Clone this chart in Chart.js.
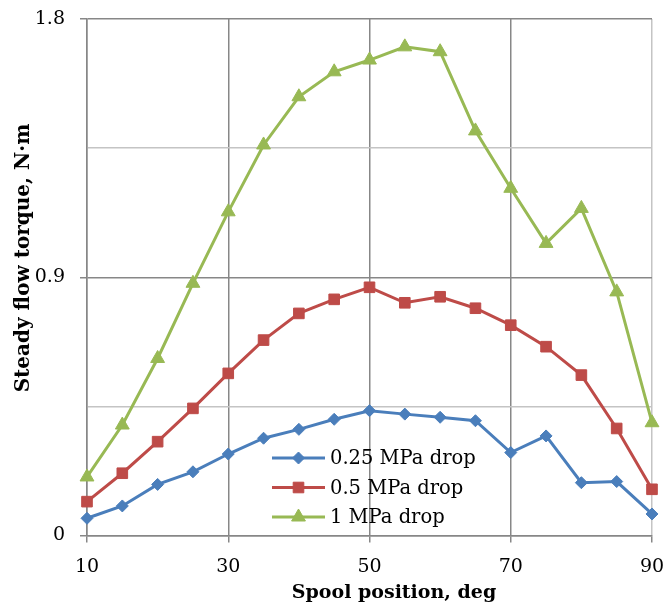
<!DOCTYPE html>
<html>
<head>
<meta charset="utf-8">
<title>Steady flow torque</title>
<script src="https://cdn.jsdelivr.net/npm/chart.js@4.4.1/dist/chart.umd.min.js"></script>
<style>
  html, body { margin: 0; padding: 0; background: #fff; }
  #wrap { width: 665px; height: 603px; }
</style>
</head>
<body>
<div id="wrap"><canvas id="chart" width="665" height="603"></canvas></div>
<script>
// Datos
const spoolPositions = [10, 15, 20, 25, 30, 35, 40, 45, 50, 55, 60, 65, 70, 75, 80, 85, 90];
const torque025 = [0.060, 0.103, 0.178, 0.222, 0.284, 0.339, 0.370, 0.405, 0.435, 0.423, 0.412, 0.400, 0.289, 0.347, 0.184, 0.188, 0.075];
const torque05 = [0.118, 0.217, 0.327, 0.443, 0.565, 0.681, 0.774, 0.823, 0.865, 0.811, 0.832, 0.792, 0.733, 0.658, 0.559, 0.373, 0.161];
const torque1 = [0.204, 0.385, 0.617, 0.879, 1.128, 1.361, 1.529, 1.616, 1.657, 1.703, 1.686, 1.410, 1.210, 1.018, 1.140, 0.849, 0.393];
const seriesNames = ['0.25 MPa drop', '0.5 MPa drop', '1 MPa drop'];
const xTitle = 'Spool position, deg';
const yTitle = 'Steady flow torque, N\u00B7m';

const DARK = '#878787';
const LIGHT = '#c4c4c4';
const FONT = 'DejaVu Serif';

function toPoints(values) {
    return spoolPositions.map((x, i) => ({ x: x, y: values[i] }));
}

function isMajor(v) {
    return Math.abs(v / 0.9 - Math.round(v / 0.9)) < 1e-6;
}

// Quitar el relleno extra que Chart.js añade por las etiquetas
function fixScale(scale, size) {
    if (scale.isHorizontal()) scale.height = size;
    else scale.width = size;
    scale.paddingLeft = 0;
    scale.paddingRight = 0;
    scale.paddingTop = 0;
    scale.paddingBottom = 0;
}

function makeDataset(label, values, color, style, radius) {
    return {
        label: label,
        data: toPoints(values),
        borderColor: color,
        backgroundColor: color,
        borderWidth: 3,
        pointStyle: style,
        pointRadius: radius,
        pointHoverRadius: radius,
        pointBorderWidth: 1,
        tension: 0,
        clip: false
    };
}

// Marcador simple para la leyenda
function drawMarker(ctx, style, x, y, r, color) {
    ctx.save();
    ctx.fillStyle = color;
    ctx.strokeStyle = color;
    ctx.lineWidth = 1;
    ctx.beginPath();
    if (style === 'rectRot') {
        ctx.moveTo(x, y - r); ctx.lineTo(x + r, y); ctx.lineTo(x, y + r); ctx.lineTo(x - r, y);
    } else if (style === 'rect') {
        const s = r * Math.SQRT1_2;
        ctx.rect(x - s, y - s, 2 * s, 2 * s);
    } else {
        ctx.moveTo(x, y - r);
        ctx.lineTo(x + r * Math.sin(Math.PI * 2 / 3), y - r * Math.cos(Math.PI * 2 / 3));
        ctx.lineTo(x + r * Math.sin(Math.PI * 4 / 3), y - r * Math.cos(Math.PI * 4 / 3));
    }
    ctx.closePath();
    ctx.fill();
    ctx.stroke();
    ctx.restore();
}

// Títulos de ejes y leyenda dibujados a mano
const extrasPlugin = {
    id: 'extras',
    afterDraw(chart) {
        const ctx = chart.ctx;
        ctx.save();
        ctx.fillStyle = '#000';
        ctx.font = 'bold 19px "' + FONT + '"';
        ctx.textAlign = 'center';
        ctx.textBaseline = 'alphabetic';
        ctx.fillText(xTitle, 394, 598);

        ctx.font = 'bold 20px "' + FONT + '"';
        ctx.translate(29, 258);
        ctx.rotate(-Math.PI / 2);
        ctx.fillText(yTitle, 0, 0);
        ctx.restore();

        // Leyenda
        const x0 = 272, x1 = 325, top = 458, step = 29.5;
        ctx.save();
        ctx.font = '19.5px "' + FONT + '"';
        ctx.textAlign = 'left';
        ctx.textBaseline = 'middle';
        chart.data.datasets.forEach((ds, i) => {
            const y = top + i * step;
            ctx.strokeStyle = ds.borderColor;
            ctx.lineWidth = 3;
            ctx.beginPath();
            ctx.moveTo(x0, y);
            ctx.lineTo(x1, y);
            ctx.stroke();
            drawMarker(ctx, ds.pointStyle, (x0 + x1) / 2, y, ds.pointRadius, ds.borderColor);
            ctx.fillStyle = '#000';
            ctx.fillText(ds.label, 330, y + 1);
        });
        ctx.restore();
    }
};

const chart = new Chart(document.getElementById('chart').getContext('2d'), {
    type: 'line',
    data: {
        datasets: [
            makeDataset(seriesNames[0], torque025, '#4a7ebb', 'rectRot', 6),
            makeDataset(seriesNames[1], torque05, '#be4b48', 'rect', 7.5),
            makeDataset(seriesNames[2], torque1, '#98b954', 'triangle', 8)
        ]
    },
    options: {
        responsive: false,
        animation: false,
        events: [],
        layout: { padding: { top: 19, right: 13, left: 0, bottom: 0 } },
        plugins: {
            legend: { display: false },
            tooltip: { enabled: false }
        },
        scales: {
            x: {
                type: 'linear',
                min: 10,
                max: 90,
                afterFit: scale => fixScale(scale, 67.5),
                ticks: {
                    stepSize: 20,
                    padding: 13,
                    color: '#000',
                    font: { family: FONT, size: 19 }
                },
                grid: {
                    color: ctx => (ctx.tick && ctx.tick.value === 90) ? LIGHT : DARK,
                    lineWidth: 1.5,
                    tickLength: 7,
                    tickColor: DARK
                },
                border: { color: DARK, width: 1.5 }
            },
            y: {
                min: 0,
                max: 1.8,
                afterFit: scale => fixScale(scale, 87),
                ticks: {
                    stepSize: 0.45,
                    padding: 15,
                    color: '#000',
                    font: { family: FONT, size: 19 },
                    callback: v => isMajor(v) ? String(Math.round(v * 10) / 10) : ''
                },
                grid: {
                    color: ctx => (ctx.tick && isMajor(ctx.tick.value)) ? DARK : LIGHT,
                    lineWidth: 1.5,
                    tickLength: 7,
                    tickColor: ctx => (ctx.tick && isMajor(ctx.tick.value)) ? DARK : 'rgba(0,0,0,0)'
                },
                border: { color: DARK, width: 1.5 }
            }
        }
    },
    plugins: [extrasPlugin]
});
</script>
</body>
</html>
